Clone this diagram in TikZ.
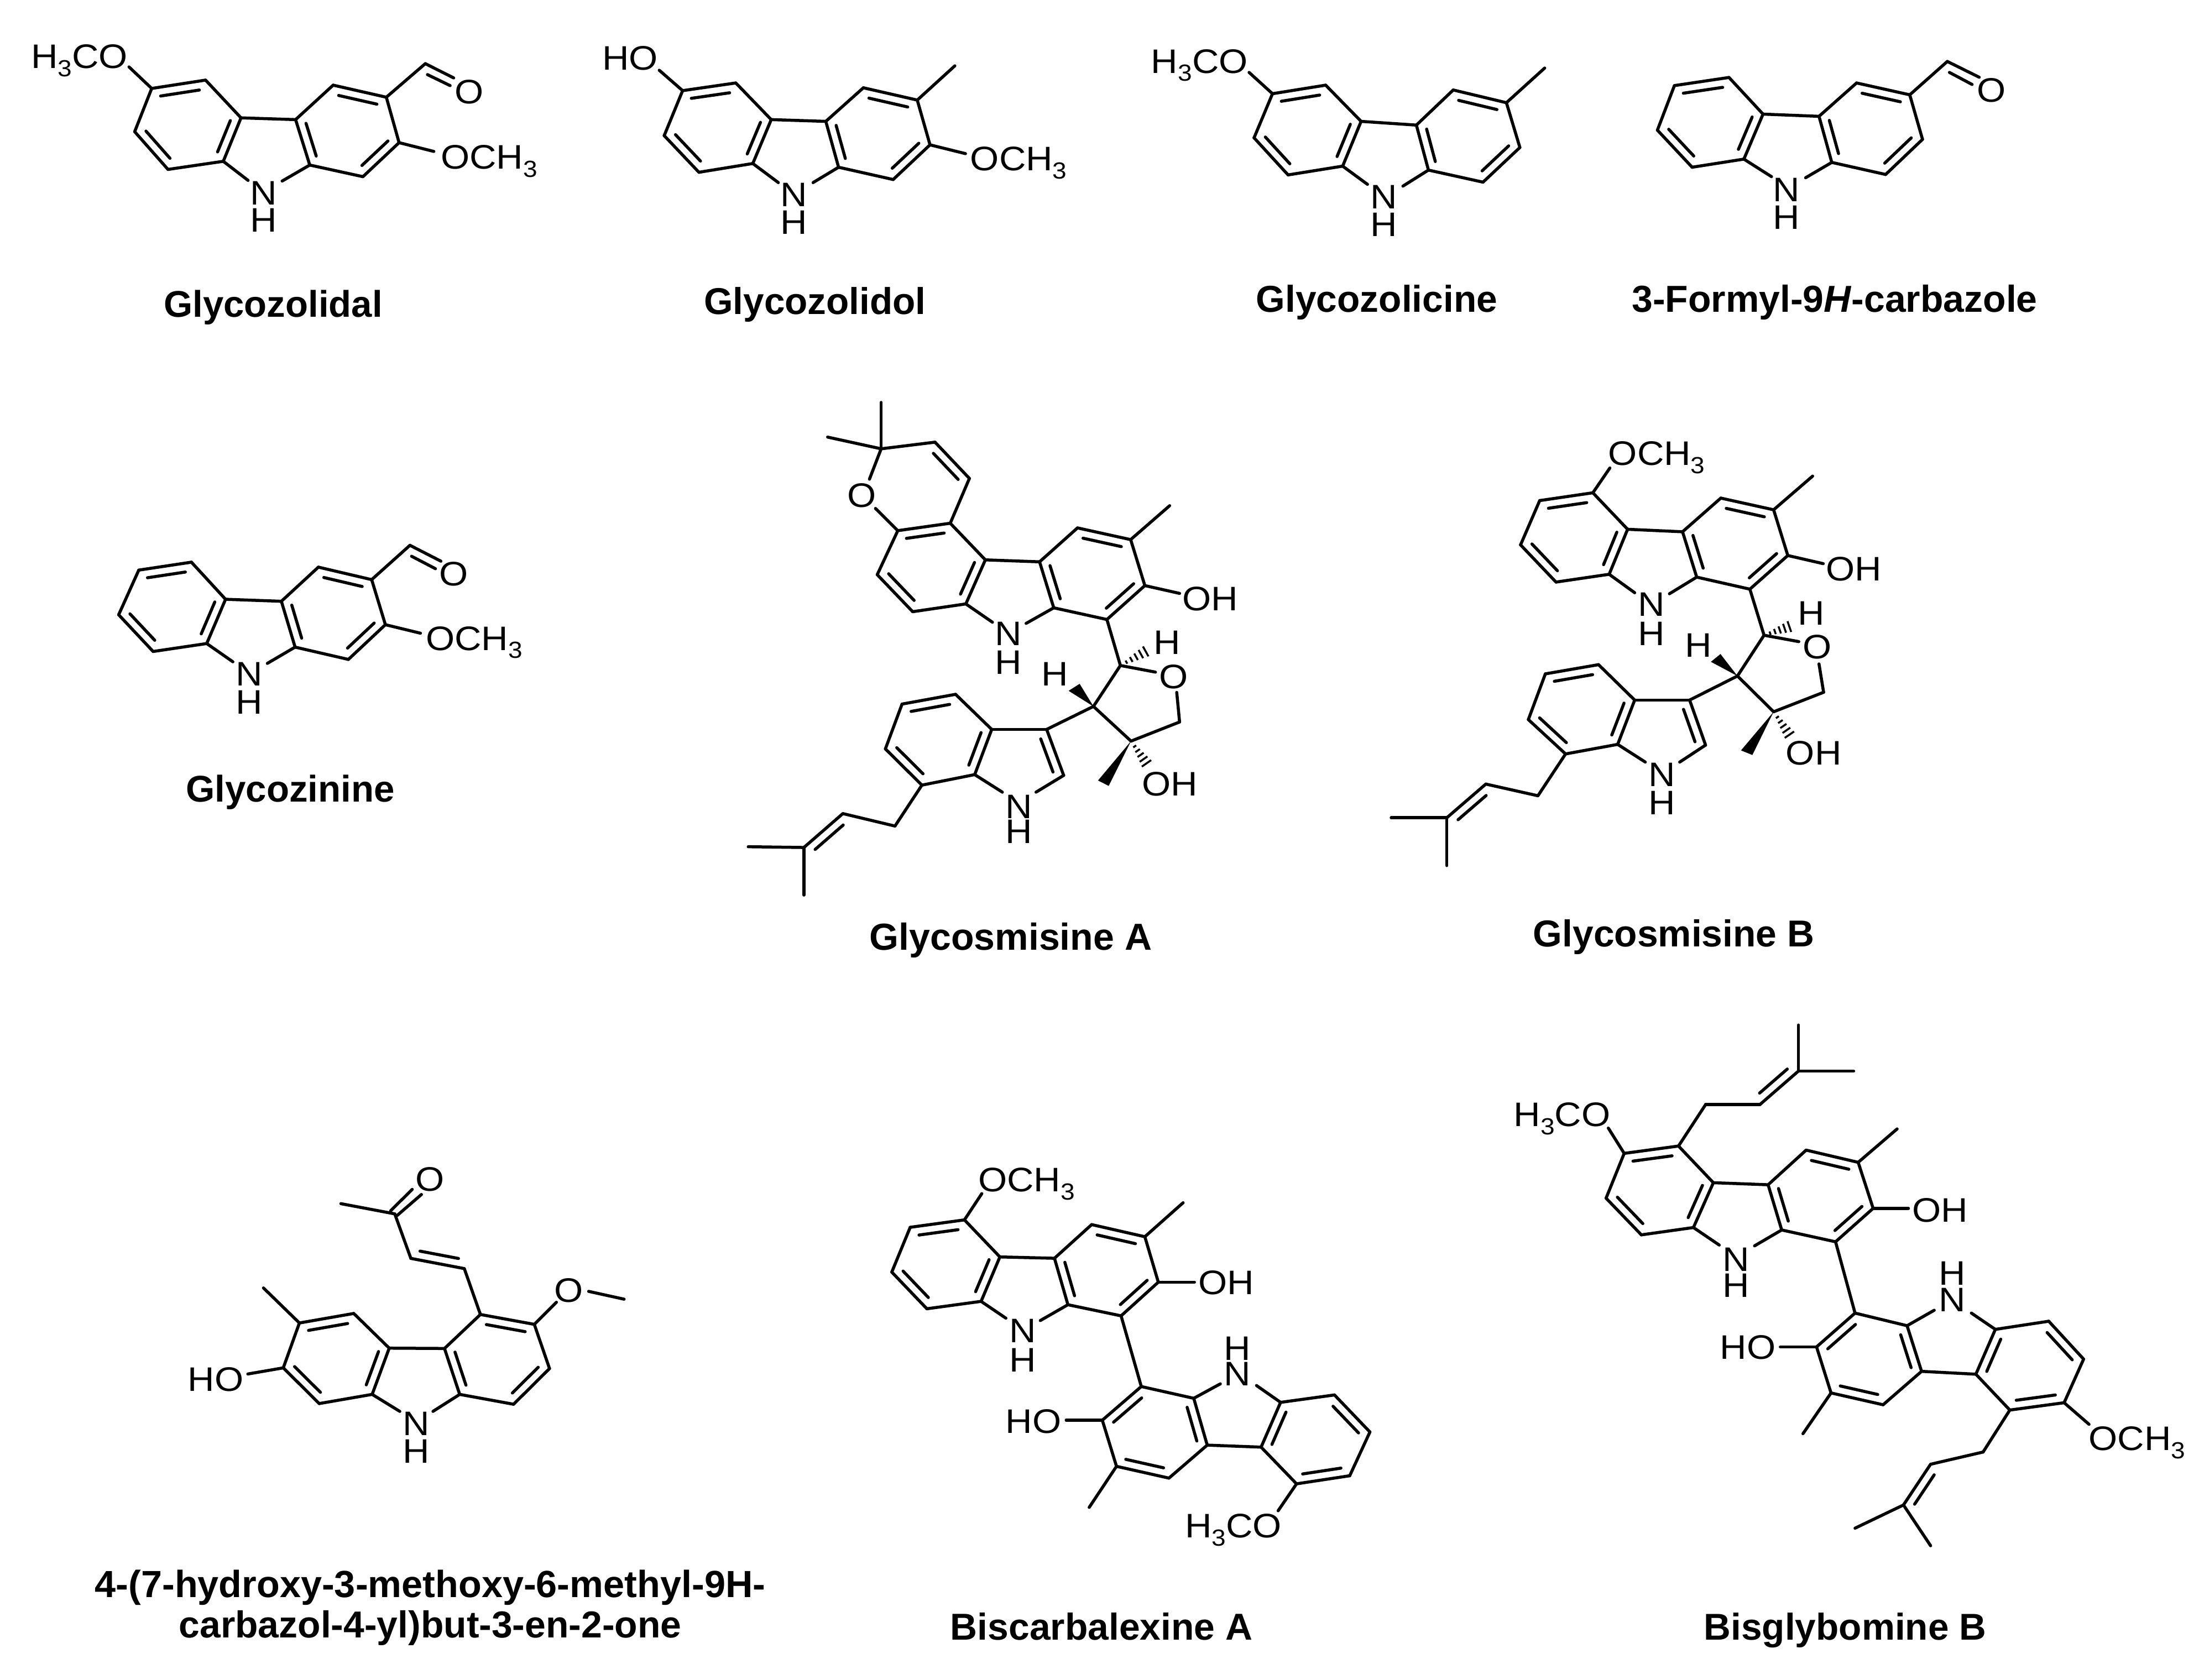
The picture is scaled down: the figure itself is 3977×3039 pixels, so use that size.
\documentclass[tikz,border=0pt]{standalone}
\usepackage{fontspec}
\usepackage{graphicx}
\setmainfont{Liberation Sans}
\usetikzlibrary{calc}
\tikzset{
  bond/.style={line width=0.055cm,line cap=round,line join=round,black},
  atomlbl/.style={anchor=base,inner sep=0pt,yshift=-0.21cm,font=\fontsize{17.5}{20}\selectfont},
  namelbl/.style={anchor=base,inner sep=0pt}
}
\newcommand\msub[1]{\raisebox{-4.2pt}{\fontsize{12}{12}\selectfont #1}}
\newcommand\setz[4]{\def\ox{#1}\def\oy{#2}\def\sx{#3}\def\sy{#4}}
\newcommand\atoms[2]{\foreach \n/\xx/\yy in {#2}{\coordinate (#1\n) at ({\ox+\xx*\sx},{\oy+\yy*\sy});}}
\newcommand\atm[4]{\node[atomlbl] (#1) at ({\ox+#2*\sx},{\oy+#3*\sy}) {\scalebox{1.09}[1]{#4}};}
\newcommand\bnd[2]{\draw[bond] (#1) -- (#2);}
\newcommand\dbl[2]{\draw[bond] (#1) -- (#2);
  \draw[bond] ($(#1)!.14!(#2)!.16cm!90:(#2)$) -- ($(#2)!.14!(#1)!.16cm!-90:(#1)$);}
\newcommand\hashb[2]{\foreach \hh in {.2,.36,.52,.68,.84,1}{
  \pgfmathsetmacro\ww{.01+\hh*.11}
  \draw[line width=0.035cm] ($(#1)!\hh!(#2)!\ww cm!90:(#2)$) -- ($(#1)!\hh!(#2)!\ww cm!-90:(#2)$);}}
\newcommand\wdg[3]{\fill (#1) -- (#2) -- (#3) -- cycle;}
\newcommand\carb[1]{%
  \dbl{#1b}{#1a}\bnd{#1b}{#1c}\dbl{#1d}{#1c}\bnd{#1d}{#1e}\dbl{#1f}{#1e}\bnd{#1f}{#1a}%
  \bnd{#1c}{#1g}\bnd{#1g}{#1h}\dbl{#1i}{#1h}\bnd{#1i}{#1j}\dbl{#1k}{#1j}\bnd{#1k}{#1l}\dbl{#1g}{#1l}%
  \bnd{#1d}{#1Nl}\bnd{#1l}{#1Nr}}
\newcommand\lab[5]{\node[namelbl] (#1) at (#2,#3) {\resizebox{#4cm}{!}{\textbf{#5}}};}
\begin{document}
\begin{tikzpicture}[x=0.01cm,y=-0.01cm]
\useasboundingbox (0,0) rectangle (3977,3039);
\fill[white] (0,0) rectangle (3977,3039);

% Glycozolidal
\setz{0}{0}{1.282}{.397}
\atoms{ma}{a/214/403,b/290/365,c/340/537,d/315/735,e/237/772,f/190/600,g/417/545,h/470/388,i/545/443,j/563/650,k/512/805,l/437/752,Nl/350/822,Nr/398/825,oa/182/305,ob/612/690,cho/600/290,coa/640/355,cob/603/340,coc/635/390}
\carb{ma}\bnd{maa}{maoa}\bnd{maj}{maob}\bnd{mai}{macho}\bnd{macho}{macoa}\bnd{macob}{macoc}
\atm{maN}{372}{880}{N}\atm{maH}{372}{1003}{H}\atm{maO}{662}{420}{O}
\atm{maT}{112}{258}{H\msub{3}CO}\atm{maU}{690}{716}{OCH\msub{3}}
\lab{laba}{494}{573}{3.95}{Glycozolidal}

% Glycozolidol
\atoms{mb}{a/963/413,b/1038/378,c/1088/545,d/1062/745,e/986/785,f/937/618,g/1165/553,h/1218/400,i/1294/456,j/1312/660,k/1260/818,l/1183/762,Nl/1098/832,Nr/1147/832,oa/930/320,ob/1362/700,me/1347/300}
\carb{mb}\bnd{mba}{mboa}\bnd{mbj}{mbob}\bnd{mbi}{mbme}
\atm{mbN}{1120}{889}{N}\atm{mbH}{1120}{1015}{H}
\atm{mbT}{889}{265}{HO}\atm{mbU}{1437}{725}{OCH\msub{3}}
\lab{labb}{1474}{568}{4.01}{Glycozolidol}

% Glycozolicine
\setz{1977}{0}{1.282}{.397}
\atoms{mc}{a/253/427,b/328/388,c/378/553,d/352/757,e/275/797,f/227/628,g/456/570,h/508/410,i/583/468,j/602/672,k/550/830,l/473/775,Nl/387/840,Nr/437/848,oa/220/330,me/637/310}
\carb{mc}\bnd{mca}{mcoa}\bnd{mci}{mcme}
\atm{mcN}{410}{899}{N}\atm{mcH}{410}{1025}{H}
\atm{mcT}{150}{280}{H\msub{3}CO}
\lab{labc}{2490}{564}{4.36}{Glycozolicine}

% 3-Formyl-9H-carbazole
\atoms{md}{a/820/390,b/897/353,c/945/520,d/918/725,e/845/762,f/796/593,g/1024/530,h/1077/378,i/1152/432,j/1170/635,k/1118/795,l/1042/740,Nl/957/805,Nr/1005/810,cho/1205/280,coa/1250/352,cob/1208/330,coc/1240/385}
\carb{md}\bnd{mdi}{mdcho}\bnd{mdcho}{mdcoa}\bnd{mdcob}{mdcoc}
\atm{mdN}{978}{865}{N}\atm{mdH}{978}{991}{H}\atm{mdO}{1267}{413}{O}
\lab{labd}{3318}{564}{7.33}{3-Formyl-9\textit{H}-carbazole}

% Glycozinine
\setz{150}{920}{.577}{.359}
\atoms{me}{a/175/310,b/340/270,c/447/457,d/388/680,e/220/720,f/112/535,g/622/467,h/738/295,i/905/358,j/948/585,k/832/760,l/665/698,Nl/470/772,Nr/578/780,ob/1058/628,cho/1025/185,coa/1122/265,cob/1030/240,coc/1105/303}
\carb{me}\bnd{mej}{meob}\bnd{mei}{mecho}\bnd{mecho}{mecoa}\bnd{mecob}{mecoc}
\atm{meN}{522}{835}{N}\atm{meH}{522}{975}{H}\atm{meO}{1163}{330}{O}
\atm{meU}{1226}{655}{OCH\msub{3}}
\lab{labe}{525}{1450}{3.77}{Glycozinine}

% Glycosmisine A
\setz{1300}{680}{.641}{.705}
\atoms{mf}{a/505/397,b/653/378,c/752/472,d/697/585,e/547/605,f/447/510,g/905/477,h/1012/390,i/1162/420,j/1202/538,k/1095/625,l/945/595,Nl/772/632,Nr/867/635,
 pa/458/187,pb/458/68,pc/307/157,pd/610/170,pe/707/263,pf/425/265,pg/442/340,
 me/1272/333,oh/1300/558,
 q/1133/743,qa/1232/760,qb/1292/812,qc/1300/888,r/1163/937,s/1057/848,
 ha/1218/700,wa/987/808,wb/1018/790,wc/1070/1038,wd/1100/1052,hb/1215/1005,
 t/925/907,u/770/907,xa/668/817,xb/517/842,xc/470/957,w/573/1050,v/722/1023,x/973/1025,ia/800/1068,ib/895/1068,
 ya/497/1155,yb/350/1123,yc/240/1210,yd/83/1208,ye/240/1332}
\carb{mf}
\bnd{mfpa}{mfpb}\bnd{mfpa}{mfpc}\bnd{mfpa}{mfpd}\dbl{mfpe}{mfpd}\bnd{mfpe}{mfb}\bnd{mfpa}{mfpf}\bnd{mfpg}{mfa}
\bnd{mfi}{mfme}\bnd{mfj}{mfoh}\bnd{mfk}{mfq}\bnd{mfq}{mfqa}\bnd{mfqb}{mfqc}\bnd{mfqc}{mfr}\bnd{mfr}{mfs}\bnd{mfs}{mfq}
\hashb{mfq}{mfha}\hashb{mfr}{mfhb}\wdg{mfs}{mfwa}{mfwb}\wdg{mfr}{mfwc}{mfwd}
\bnd{mfs}{mft}\bnd{mft}{mfu}\bnd{mfu}{mfxa}\dbl{mfxa}{mfxb}\bnd{mfxb}{mfxc}\dbl{mfxc}{mfw}\bnd{mfw}{mfv}\dbl{mfv}{mfu}\dbl{mfx}{mft}\bnd{mfx}{mfib}\bnd{mfv}{mfia}
\bnd{mfw}{mfya}\bnd{mfya}{mfyb}\dbl{mfyb}{mfyc}\bnd{mfyc}{mfyd}\bnd{mfyc}{mfye}
\atm{mfN}{817}{662}{N}\atm{mfH}{817}{735}{H}\atm{mfO}{403}{307}{O}\atm{mfOH}{1387}{573}{OH}
\atm{mfHa}{1265}{685}{H}\atm{mfHb}{948}{765}{H}\atm{mfOb}{1283}{772}{O}\atm{mfOHb}{1273}{1047}{OH}
\atm{mfNb}{847}{1105}{N}\atm{mfHc}{847}{1170}{H}
\lab{labf}{1828}{1718}{5.10}{Glycosmisine A}

% Glycosmisine B
\setz{2450}{760}{.641}{.641}
\atoms{mg}{a/522/227,b/672/205,c/770/308,d/718/435,e/568/457,f/468/352,g/925/315,h/1033/220,i/1182/253,j/1222/382,k/1115/477,l/965/443,Nl/790/487,Nr/888/490,
 oa/720/135,me/1292/158,oh/1322/405,
 q/1155/607,qa/1253/625,qb/1310/688,qc/1323/768,r/1182/823,s/1080/722,
 ha/1240/578,wa/1005/682,wb/1032/660,wc/1090/932,wd/1122/945,hb/1235/900,
 t/945/790,u/790/790,xa/688/690,xb/538/716,xc/490/845,w/595/942,v/742/915,x/990/917,ia/820/965,ib/917/965,
 ya/517/1060,yb/370/1027,yc/260/1122,yd/103/1122,ye/260/1257}
\carb{mg}
\bnd{mgb}{mgoa}\bnd{mgi}{mgme}\bnd{mgj}{mgoh}\bnd{mgk}{mgq}\bnd{mgq}{mgqa}\bnd{mgqb}{mgqc}\bnd{mgqc}{mgr}\bnd{mgr}{mgs}\bnd{mgs}{mgq}
\hashb{mgq}{mgha}\hashb{mgr}{mghb}\wdg{mgs}{mgwa}{mgwb}\wdg{mgr}{mgwc}{mgwd}
\bnd{mgs}{mgt}\bnd{mgt}{mgu}\bnd{mgu}{mgxa}\dbl{mgxa}{mgxb}\bnd{mgxb}{mgxc}\dbl{mgxc}{mgw}\bnd{mgw}{mgv}\dbl{mgv}{mgu}\dbl{mgx}{mgt}\bnd{mgx}{mgib}\bnd{mgv}{mgia}
\bnd{mgw}{mgya}\bnd{mgya}{mgyb}\dbl{mgyb}{mgyc}\bnd{mgyc}{mgyd}\bnd{mgyc}{mgye}
\atm{mgN}{838}{520}{N}\atm{mgH}{838}{603}{H}\atm{mgT}{852}{95}{OCH\msub{3}}\atm{mgOH}{1408}{420}{OH}
\atm{mgHa}{1288}{545}{H}\atm{mgHb}{970}{635}{H}\atm{mgOb}{1305}{640}{O}\atm{mgOHb}{1295}{940}{OH}
\atm{mgNb}{867}{1000}{N}\atm{mgHc}{867}{1080}{H}
\lab{labg}{3027}{1712}{5.08}{Glycosmisine B}

% 4-(7-hydroxy...)
\setz{100}{2050}{.833}{.615}
\atoms{mh}{a/530/558,b/648/530,c/725/632,d/688/768,e/573/795,f/495/690,g/845/633,h/923/533,i/1040/562,j/1073/692,k/995/797,l/878/768,Nl/748/818,Nr/820/818,
 oh/418/708,me/452/455,oa/1088/497,ob/1158/465,oc/1235/488,
 ea/888/398,eb/772/368,ec/737/237,ed/620/207,fa/728/228,fb/775/165,fc/742/242,fd/795/180}
\carb{mh}
\bnd{mhf}{mhoh}\bnd{mha}{mhme}\bnd{mhi}{mhoa}\bnd{mhob}{mhoc}
\bnd{mhh}{mhea}\dbl{mheb}{mhea}\bnd{mheb}{mhec}\bnd{mhec}{mhed}\bnd{mhfa}{mhfb}\bnd{mhfc}{mhfd}
\atm{mhN}{783}{855}{N}\atm{mhH}{783}{935}{H}\atm{mhT}{348}{725}{HO}\atm{mhO}{1115}{462}{O}\atm{mhOb}{813}{135}{O}
\lab{labh}{778}{2889}{12.12}{4-(7-hydroxy-3-methoxy-6-methyl-9H-}
\lab{labi}{778}{2962}{9.08}{carbazol-4-yl)but-3-en-2-one}

% Biscarbalexine A
\setz{1550}{2080}{.641}{.609}
\atoms{mi}{a/150/230,b/303/208,c/403/318,d/350/450,e/197/472,f/98/363,g/557/322,h/662/222,i/812/258,j/850/393,k/745/493,l/595/460,Nl/420/500,Nr/517/507,oa/352/130,me/920/157,oh/952/393}
\carb{mi}\bnd{mib}{mioa}\bnd{mii}{mime}\bnd{mij}{mioh}
\atoms{mj}{a/1390/968,b/1240/992,c/1140/883,d/1195/750,e/1347/728,f/1447/838,g/988/877,h/880/975,i/732/940,j/692/803,k/802/703,l/950/738,Nl/1127/700,Nr/1025/695,oa/1188/1072,me/655/1062,oh/590/803}
\carb{mj}\bnd{mjb}{mjoa}\bnd{mji}{mjme}\bnd{mjj}{mjoh}\bnd{mik}{mjk}
\atm{miN}{467}{538}{N}\atm{miH}{467}{625}{H}\atm{miT}{478}{90}{OCH\msub{3}}\atm{miOH}{1042}{395}{OH}
\atm{mjN}{1073}{665}{N}\atm{mjH}{1073}{590}{H}\atm{mjT}{1062}{1118}{H\msub{3}CO}\atm{mjOH}{498}{807}{HO}
\lab{labj}{1992}{2966}{5.46}{Biscarbalexine A}

% Bisglybomine B
\setz{2700}{1880}{.8186}{.737}
\atoms{mk}{a/290/280,b/410/262,c/487/352,d/443/462,e/328/480,f/250/390,g/608/357,h/692/272,i/807/302,j/840/415,k/757/497,l/638/468,Nl/500/505,Nr/578/507,oa/255/218,me/893/220,oh/918/415,ra/470/160,rb/590/160,rc/675/78,rd/797/78,re/675/-35}
\carb{mk}\bnd{mka}{mkoa}\bnd{mki}{mkme}\bnd{mkj}{mkoh}\bnd{mkb}{mkra}\bnd{mkra}{mkrb}\dbl{mkrb}{mkrc}\bnd{mkrc}{mkrd}\bnd{mkrc}{mkre}
\atoms{ml}{a/1262/892,b/1142/910,c/1067/822,d/1110/712,e/1228/692,f/1305/785,g/947/815,h/862/897,i/747/868,j/715/755,k/800/672,l/915/703,Nl/1057/672,Nr/975/665,oa/1317/945,me/685/968,oh/635/755,ra/1083/1013,rb/967/1043,rc/907/1143,rd/800/1200,re/967/1243}
\carb{ml}\bnd{mla}{mloa}\bnd{mli}{mlme}\bnd{mlj}{mloh}\bnd{mlb}{mlra}\bnd{mlra}{mlrb}\dbl{mlrb}{mlrc}\bnd{mlrc}{mlrd}\bnd{mlrc}{mlre}\bnd{mkk}{mlk}
\atm{mkN}{537}{540}{N}\atm{mkH}{537}{605}{H}\atm{mkT}{153}{185}{H\msub{3}CO}\atm{mkOH}{988}{420}{OH}
\atm{mlN}{1015}{640}{N}\atm{mlH}{1015}{575}{H}\atm{mlT}{1423}{980}{OCH\msub{3}}\atm{mlOH}{563}{757}{HO}
\lab{labk}{3337}{2966}{5.10}{Bisglybomine B}
\end{tikzpicture}
\end{document}
